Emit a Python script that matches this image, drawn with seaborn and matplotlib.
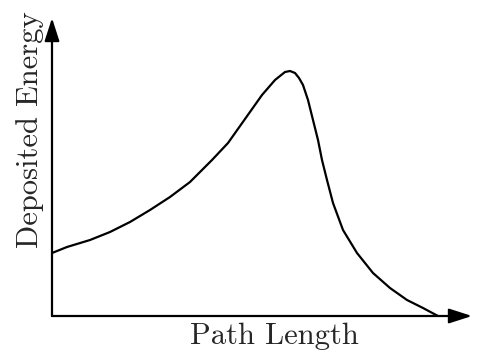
import matplotlib
matplotlib.use('Agg')
import pandas as pd
import matplotlib.pyplot as plt
import seaborn as sns

# Bragg-like curve (arbitrary units)
path_length = [0, 15, 38, 58, 78, 98, 118, 138, 160, 176, 193, 210, 223, 233,
               238, 243, 247, 251, 256, 261, 266, 270, 275, 281, 291, 305,
               321, 338, 355, 371, 386]
deposited_energy = [63, 69, 76, 84, 94, 106, 119, 134, 156, 173, 197, 221, 236, 244,
                    245, 243, 238, 231, 216, 196, 176, 156, 136, 113, 86, 63,
                    43, 28, 16, 8, 0]
x_label = 'Path Length'
y_label = 'Deposited Energy'

df = pd.DataFrame({'x': path_length, 'y': deposited_energy})

sns.set_style('white')
plt.rcParams['font.family'] = ['cmr10', 'DejaVu Serif']
plt.rcParams['axes.formatter.use_mathtext'] = True

fig = plt.figure(figsize=(4.78, 3.54), dpi=100)
ax = fig.add_axes([52 / 478, 38 / 354, 420 / 478, 298 / 354])

sns.lineplot(data=df, x='x', y='y', color='black', linewidth=1.6, ax=ax, sort=False)
ax.lines[0].set_solid_joinstyle('round')

ax.set_xlim(0, 420)
ax.set_ylim(0, 298)
ax.set_xticks([])
ax.set_yticks([])
ax.set_xlabel('')
ax.set_ylabel('')
for s in ax.spines.values():
    s.set_visible(False)

# axes with arrow heads
arrow = dict(arrowstyle='-|>,head_length=1.4,head_width=0.45', color='black',
             lw=1.6, shrinkA=0, shrinkB=0)
ax.annotate('', xy=(420, 0), xytext=(0, 0), arrowprops=arrow, annotation_clip=False)
ax.annotate('', xy=(0, 298), xytext=(0, 0), arrowprops=arrow, annotation_clip=False)

ax.text(222, -20, x_label, ha='center', va='center', fontsize=22)
ax.text(-22, 186, y_label, ha='center', va='center', rotation=90, fontsize=22)

fig.savefig('out.png', dpi=100)
